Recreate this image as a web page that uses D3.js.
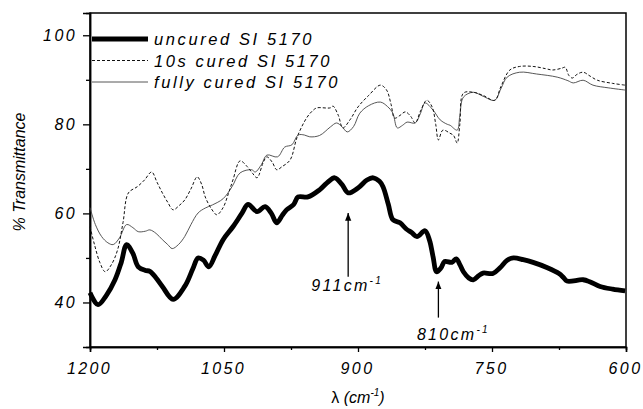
<!DOCTYPE html>
<html>
<head>
<meta charset="utf-8">
<script src="https://cdn.jsdelivr.net/npm/d3@7"></script>
<style>
  body { margin: 0; background: #fff; }
  svg { display: block; }
  text { font-family: Arial, "Liberation Sans", Helvetica, sans-serif; fill: #000; }
</style>
</head>
<body>
<svg id="chart" width="643" height="409"></svg>
<script>
// ---------- data ----------
const seriesNames = ["uncured SI 5170", "10s cured SI 5170", "fully cured SI 5170"];

const uncured = [
  [1200,42.2],[1191,39.5],[1182,41.5],[1172,45.1],[1165,49],[1159,53],[1152,51],[1146,48],[1138,47.2],[1133,47],
  [1126,45.5],[1119,43.6],[1107,40.7],[1094,43.6],[1085,47.5],[1079,50],[1073,49.5],[1067,48],[1060,50.5],[1051,54.1],
  [1040,57],[1030,60],[1023,62],[1013,60.4],[1004,61.5],[997,60],[991,57.9],[985,59.5],[980,60.8],[972,62],
  [967,63.7],[956,63.7],[943,65.3],[935,66.8],[926,68],[918,66.5],[911,64.6],[900,65.7],[890,67.5],[883,68],
  [876,67.2],[872,66],[866,62],[861,58.6],[853,57.9],[846,56.5],[840,55.7],[834,54.8],[825,56.1],[820,54],
  [816,50.3],[812,46.9],[807,47.8],[803,49.2],[795,49],[790,49.8],[786,48.5],[782,46.9],[776,45.5],[771,45.1],
  [765,46],[760,46.6],[749,46.5],[741,47.8],[733,49.5],[726,50],[715,49.6],[704,49],[688,47.8],[675,46.5],
  [670,45.6],[666,44.8],[648,45.1],[640,44.6],[629,43.6],[615,43],[601,42.6]
];

const cured10s = [
  [1200,57],[1195,53],[1189,49],[1183,46.9],[1176,48.5],[1169,51.9],[1163,58],[1157,64.6],[1147,66],[1139,67.5],
  [1131,69.3],[1125,67],[1119,64.6],[1113,62.5],[1107,60.8],[1100,61.8],[1094,63],[1087,65.5],[1080,68.2],[1075,66.5],
  [1071,63.7],[1064,61],[1058,59.7],[1051,61.3],[1045,64.5],[1040,67.5],[1032,71.8],[1024,70.5],[1018,69],[1013,68],
  [1006,71.5],[1002,72.7],[996,71.5],[991,69.8],[985,70.5],[976,72],[968,77.2],[957,81.6],[950,83.2],[946,83.7],
  [931,83.7],[928,84.1],[922,82],[917,79.2],[909,81],[900,83.9],[888,86.5],[875,88.8],[868,87.7],[863,84.5],
  [859,81.4],[853,82],[847,82.8],[841,81.8],[836,80.3],[830,83],[823,85.4],[817,83.9],[813,80],[810,76.5],
  [805,78.7],[797,78],[793,77.5],[789,75.8],[786,80],[782,87],[771,87.2],[760,86.5],[747,85.4],[740,88.5],
  [730,92.2],[719,93],[704,93],[690,92.5],[682,92.2],[672,92.6],[668,92.8],[664,91],[660,90.4],[655,91.2],
  [648,91.7],[640,90.8],[632,89.9],[615,89.2],[601,88.8]
];

const fullyCured = [
  [1200,61.3],[1194,57.5],[1187,54.8],[1180,53.4],[1174,53],[1167,54.5],[1159,57.5],[1152,56.8],[1146,55.9],[1138,56],
  [1133,56.3],[1126,55.5],[1119,54.1],[1113,53],[1108,52.1],[1101,53],[1094,54.8],[1087,57.5],[1079,60.1],[1071,61.2],
  [1063,61.9],[1051,63.3],[1041,66],[1032,69.1],[1019,69.8],[1015,69.3],[1008,71],[1002,73.1],[990,72.7],[982,74.9],
  [974,75.4],[967,77.6],[960,77.6],[954,77.2],[943,77.5],[931,79.4],[924,80.3],[918,79.5],[912,78.3],[905,79.5],
  [898,82.5],[888,84.2],[875,85],[867,84],[861,82.5],[856,79.2],[850,79.8],[845,80.5],[836,80.3],[830,82.5],
  [825,84.8],[816,83.2],[808,81],[800,80],[797,79.8],[789,78.7],[786,82],[782,86.1],[771,87.2],[760,86.3],
  [747,85.4],[740,88],[733,90.6],[719,91.7],[700,91.3],[677,90.6],[665,89.8],[659,89.3],[648,89.9],[637,88.8],
  [620,88.2],[601,87.7]
];

const xMajorTicks = [1200, 1050, 900, 750, 600];
const xMinorTicks = [1125, 975, 825, 675];
const yMajorTicks = [40, 60, 80, 100];
const yMinorTicks = [50, 70, 90];
const xDomain = [1200, 600];
const yDomain = [30, 105];

// annotations: wavenumber, arrow from value -> to value, label position value, label
const annotWn = [911, 810];
const annotFrom = [45.8, 36.6];
const annotTo = [60.1, 44.7];
const annotLabelY = [42.5, 31.6];
const annotLabel = ["911cm", "810cm"];
const annotLabelDx = [-1, 15];

// ---------- layout ----------
const W = 643, H = 409;
const margin = { left: 90, right: 17, top: 13, bottom: 62 };
const iw = W - margin.left - margin.right;
const ih = H - margin.top - margin.bottom;

const svg = d3.select("#chart");
const g = svg.append("g").attr("transform", `translate(${margin.left},${margin.top})`);

const x = d3.scaleLinear().domain(xDomain).range([0, iw]);
const y = d3.scaleLinear().domain(yDomain).range([ih, 0]);

// frame
g.append("rect").attr("x", 0).attr("y", 0).attr("width", iw).attr("height", ih)
  .attr("fill", "none").attr("stroke", "#000").attr("stroke-width", 1.5);

// axes
const tickFont = "italic 16px Arial, 'Liberation Sans', sans-serif";

const xAxis = g.append("g").attr("transform", `translate(0,${ih})`)
  .call(d3.axisBottom(x).tickValues(xMajorTicks).tickSize(5).tickPadding(6).tickFormat(d3.format("d")));
g.append("g").attr("transform", `translate(0,${ih})`)
  .call(d3.axisBottom(x).tickValues(xMinorTicks).tickSize(3).tickFormat(""));

const yAxis = g.append("g")
  .call(d3.axisLeft(y).tickValues(yMajorTicks).tickSize(7).tickPadding(6).tickFormat(d3.format("d")));
g.append("g")
  .call(d3.axisLeft(y).tickValues(yMinorTicks).tickSize(4).tickFormat(""));

g.selectAll(".domain").attr("stroke", "#000").attr("stroke-width", 1.5);
g.selectAll(".tick line").attr("stroke", "#000").attr("stroke-width", 1.3);
g.selectAll(".tick text")
  .style("font", tickFont).style("letter-spacing", "2.4px").attr("fill", "#000");
xAxis.selectAll(".tick text").attr("dy", "1em").attr("dx", "-1px");

// axis titles
svg.append("text")
  .attr("x", margin.left + iw / 2).attr("y", 403)
  .attr("text-anchor", "middle")
  .style("font-size", "16px")
  .html('λ <tspan font-style="italic">(cm</tspan><tspan font-style="italic" font-size="10px" dy="-7">-1</tspan><tspan font-style="italic" dy="7">)</tspan>');

svg.append("text")
  .attr("transform", `translate(25,${margin.top + ih / 2 - 8}) rotate(-90)`)
  .attr("text-anchor", "middle")
  .style("font-size", "16px").style("font-style", "italic")
  .text("% Transmittance");

// lines
const line = d3.line().x(d => x(d[0])).y(d => y(d[1])).curve(d3.curveCatmullRom.alpha(0.5));

g.append("path").datum(fullyCured).attr("d", line)
  .attr("fill", "none").attr("stroke", "#444").attr("stroke-width", 0.9);
g.append("path").datum(cured10s).attr("d", line)
  .attr("fill", "none").attr("stroke", "#111").attr("stroke-width", 1).attr("stroke-dasharray", "3,2");
g.append("path").datum(uncured).attr("d", line)
  .attr("fill", "none").attr("stroke", "#000").attr("stroke-width", 4.8).attr("stroke-linejoin", "round");

// annotations
svg.append("defs").append("marker")
  .attr("id", "ah").attr("viewBox", "0 0 10 10").attr("refX", 10).attr("refY", 5)
  .attr("markerWidth", 6).attr("markerHeight", 6).attr("orient", "auto")
  .append("path").attr("d", "M0,1 L10,5 L0,9 Z").attr("fill", "#000");

annotWn.forEach((wn, i) => {
  g.append("line")
    .attr("x1", x(wn)).attr("x2", x(wn))
    .attr("y1", y(annotFrom[i])).attr("y2", y(annotTo[i]))
    .attr("stroke", "#000").attr("stroke-width", 1.3).attr("marker-end", "url(#ah)");
  const t = g.append("text")
    .attr("x", x(wn) + annotLabelDx[i]).attr("y", y(annotLabelY[i]))
    .attr("text-anchor", "middle")
    .style("font-size", "16px").style("font-style", "italic").style("letter-spacing", "2.3px");
  t.append("tspan").text(annotLabel[i]);
  t.append("tspan").attr("font-size", "10px").attr("dy", -7).text("-1");
});

// legend
const legendStyles = [
  { w: 4.8, dash: null, color: "#000" },
  { w: 1, dash: "3,2", color: "#111" },
  { w: 0.9, dash: null, color: "#444" }
];
const lg = svg.append("g");
seriesNames.forEach((name, i) => {
  const yy = 39 + i * 21.5;
  lg.append("line").attr("x1", 92).attr("x2", 148).attr("y1", yy).attr("y2", yy)
    .attr("stroke", legendStyles[i].color).attr("stroke-width", legendStyles[i].w)
    .attr("stroke-dasharray", legendStyles[i].dash);
  lg.append("text").attr("x", 154).attr("y", yy + 6)
    .style("font-size", "16.5px").style("font-style", "italic").style("letter-spacing", "2.6px")
    .text(name);
});
</script>
</body>
</html>
